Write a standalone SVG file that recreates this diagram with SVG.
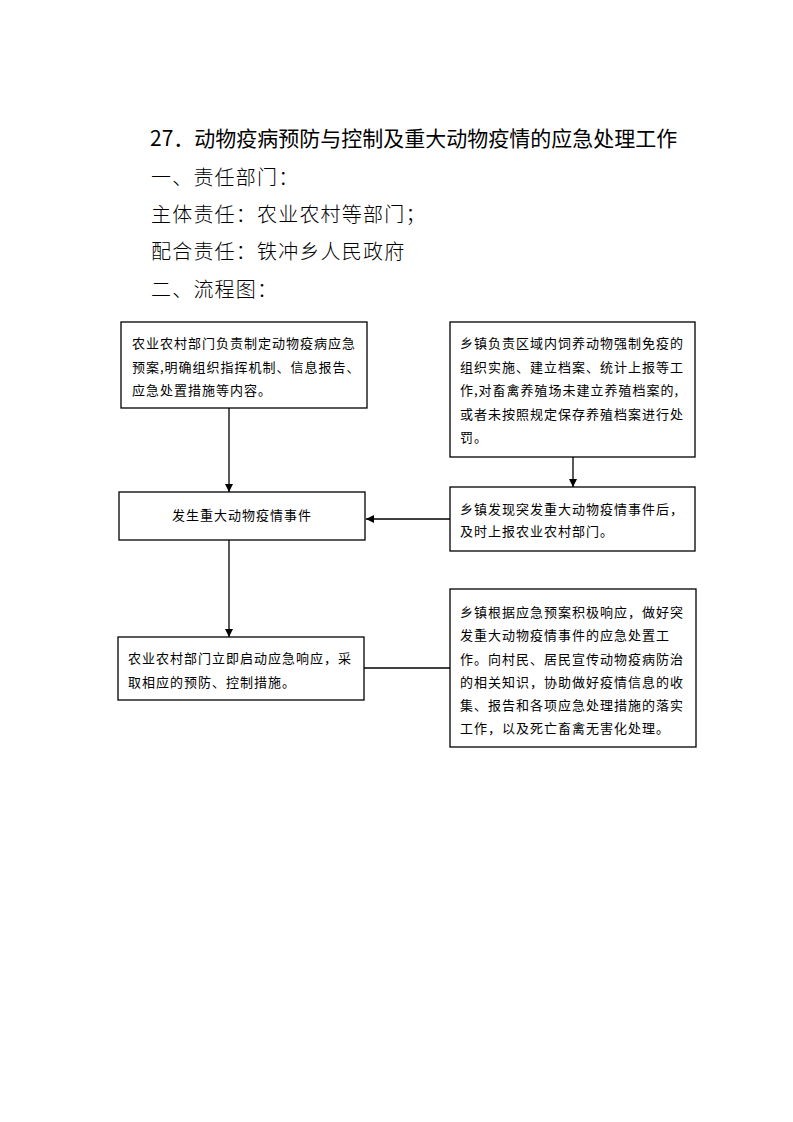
<svg xmlns="http://www.w3.org/2000/svg" width="793" height="1122" viewBox="0 0 793 1122">
  <style>
    .title { font-family: "Noto Sans CJK SC", "Liberation Sans", sans-serif; font-size: 21px; font-weight: 400; fill: #000; }
    .head { font-family: "Noto Sans CJK SC", sans-serif; font-size: 20px; font-weight: 300; letter-spacing: 1.2px; fill: #000; }
    .box { fill: #fff; stroke: #000; stroke-width: 1.3; }
    .bt { font-family: "Noto Sans CJK SC", sans-serif; font-size: 13px; letter-spacing: 1px; fill: #000; }
    .conn { fill: none; stroke: #000; stroke-width: 1.3; }
  </style>
  <defs>
    <marker id="arr" markerUnits="userSpaceOnUse" markerWidth="9" markerHeight="9" refX="8" refY="4" orient="auto">
      <path d="M0,0 L8,4 L0,8 z" fill="#000"/>
    </marker>
  </defs>
  <rect width="793" height="1122" fill="#fff"/>

  <g id="header">
    <text class="title" x="150" y="146">27．动物疫病预防与控制及重大动物疫情的应急处理工作</text>
    <text class="head" x="151" y="185">一、责任部门：</text>
    <text class="head" x="151" y="222">主体责任：农业农村等部门；</text>
    <text class="head" x="151" y="259">配合责任：铁冲乡人民政府</text>
    <text class="head" x="151" y="297">二、流程图：</text>
  </g>

  <g id="connectors">
    <line class="conn" x1="229" y1="408" x2="229" y2="492" marker-end="url(#arr)"/>
    <line class="conn" x1="229" y1="540" x2="229" y2="637" marker-end="url(#arr)"/>
    <line class="conn" x1="573" y1="457" x2="573" y2="487" marker-end="url(#arr)"/>
    <line class="conn" x1="450" y1="519" x2="366" y2="519" marker-end="url(#arr)"/>
    <line class="conn" x1="364" y1="668" x2="450" y2="668"/>
  </g>

  <g id="node1">
    <rect class="box" x="121" y="322" width="246" height="86"/>
    <text class="bt" x="132" y="348">农业农村部门负责制定动物疫病应急</text>
    <text class="bt" x="132" y="371.5">预案,明确组织指挥机制、信息报告、</text>
    <text class="bt" x="132" y="395">应急处置措施等内容。</text>
  </g>

  <g id="node2">
    <rect class="box" x="119" y="492" width="246" height="48"/>
    <text class="bt" x="242" y="520" text-anchor="middle">发生重大动物疫情事件</text>
  </g>

  <g id="node3">
    <rect class="box" x="118" y="637" width="246" height="63"/>
    <text class="bt" x="128" y="663">农业农村部门立即启动应急响应，采</text>
    <text class="bt" x="128" y="687">取相应的预防、控制措施。</text>
  </g>

  <g id="node4">
    <rect class="box" x="450" y="322" width="245" height="135"/>
    <text class="bt" x="460" y="348">乡镇负责区域内饲养动物强制免疫的</text>
    <text class="bt" x="460" y="371.5">组织实施、建立档案、统计上报等工</text>
    <text class="bt" x="460" y="395">作,对畜禽养殖场未建立养殖档案的,</text>
    <text class="bt" x="460" y="418.5">或者未按照规定保存养殖档案进行处</text>
    <text class="bt" x="460" y="442">罚。</text>
  </g>

  <g id="node5">
    <rect class="box" x="450" y="487" width="245" height="64"/>
    <text class="bt" x="460" y="514">乡镇发现突发重大动物疫情事件后，</text>
    <text class="bt" x="460" y="536">及时上报农业农村部门。</text>
  </g>

  <g id="node6">
    <rect class="box" x="450" y="589" width="246" height="158"/>
    <text class="bt" x="460" y="617">乡镇根据应急预案积极响应，做好突</text>
    <text class="bt" x="460" y="640">发重大动物疫情事件的应急处置工</text>
    <text class="bt" x="460" y="663.5">作。向村民、居民宣传动物疫病防治</text>
    <text class="bt" x="460" y="687">的相关知识，协助做好疫情信息的收</text>
    <text class="bt" x="460" y="710">集、报告和各项应急处理措施的落实</text>
    <text class="bt" x="460" y="733">工作，以及死亡畜禽无害化处理。</text>
  </g>
</svg>
